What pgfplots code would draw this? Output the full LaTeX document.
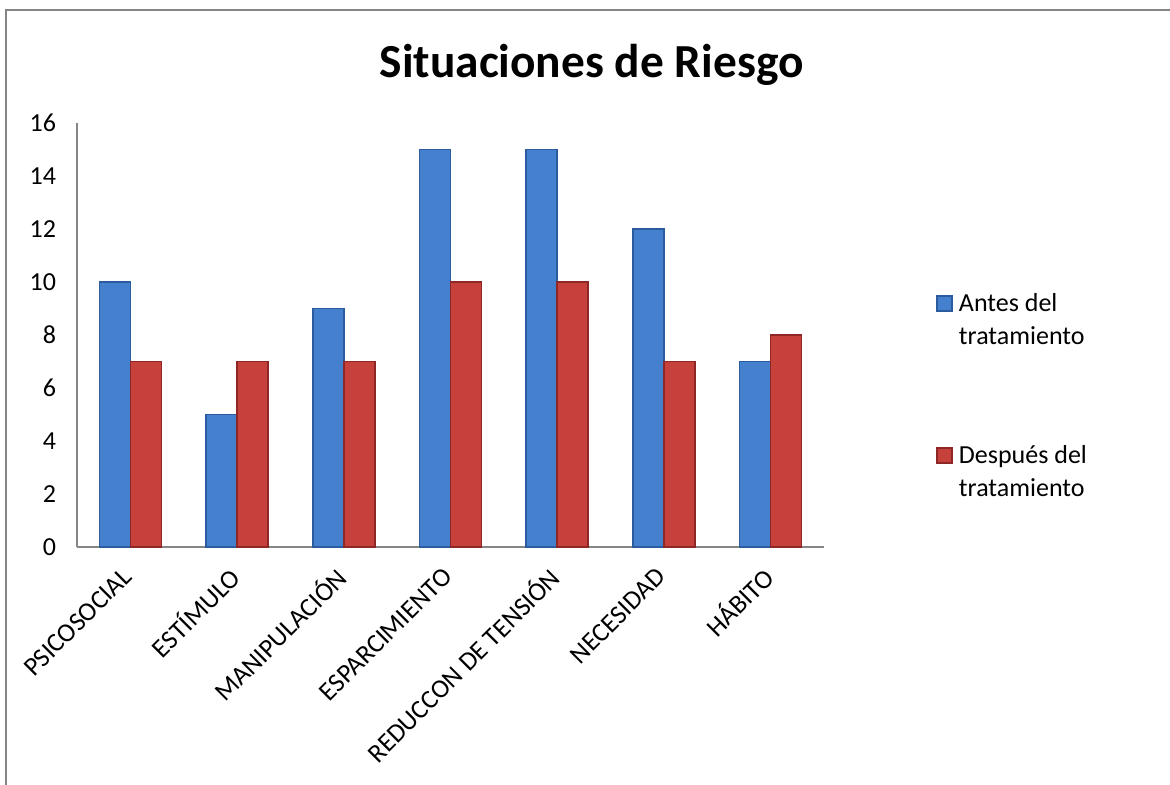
\documentclass[border=0pt]{standalone}
\usepackage{fontspec}
\setmainfont{Carlito}
\usepackage{pgfplots}
\pgfplotsset{compat=1.18}
\definecolor{bluF}{RGB}{68,128,206}
\definecolor{bluD}{RGB}{44,92,160}
\definecolor{redF}{RGB}{198,64,60}
\definecolor{redD}{RGB}{142,40,38}
\definecolor{axgray}{RGB}{134,134,134}
\begin{document}
\begin{tikzpicture}
\useasboundingbox (0,0) rectangle (585pt,-392pt);
\draw[axgray, line width=0.75pt] (3pt,-400pt) -- (3pt,-5pt) -- (590pt,-5pt);
\node[font=\bfseries\fontsize{23.7}{28}\selectfont, anchor=base] at (295.75pt,-38.5pt) {Situaciones de Riesgo};
\begin{axis}[
  at={(38.5pt,-273.5pt)}, anchor=south west,
  scale only axis, width=373.5pt, height=212pt,
  ybar=0pt, bar width=15.5pt,
  xmin=-0.5, xmax=6.5, ymin=0, ymax=16,
  ytick={0,2,...,16},
  xtick={0,...,6},
  xticklabels={PSICOSOCIAL, ESTÍMULO, MANIPULACIÓN, ESPARCIMIENTO, REDUCCON DE TENSIÓN, NECESIDAD, HÁBITO},
  axis lines*=left,
  axis line style={axgray, line width=0.9pt},
  major tick length=0pt,
  ticklabel style={font=\fontsize{13.2}{15}\selectfont},
  /pgf/number format/assume math mode=true,
  yticklabel style={xshift=-7pt, font=\fontsize{13}{15}\selectfont},
  xticklabel style={xshift=1pt, yshift=-10.2pt, rotate=45, anchor=east},
  legend style={at={(1.1499,0.6035)}, anchor=north west, draw=none, fill=none,
    inner sep=0pt, row sep=62pt, column sep=2pt,
    nodes={font=\fontsize{13}{16}\selectfont, text height=9pt, text depth=3pt, inner sep=1pt, anchor=west}},
  legend cell align=left,
  legend image code/.code={\draw[#1] (0pt,-2.75pt) rectangle (7.5pt,4.75pt);},
]
\addplot[draw=bluD, line width=0.8pt, fill=bluF]
  coordinates {(0,10) (1,5) (2,9) (3,15) (4,15) (5,12) (6,7)};
\addlegendentry{\rlap{\smash{\raisebox{-16.5pt}{tratamiento}}}Antes del}
\addplot[draw=redD, line width=0.8pt, fill=redF]
  coordinates {(0,7) (1,7) (2,7) (3,10) (4,10) (5,7) (6,8)};
\addlegendentry{\rlap{\smash{\raisebox{-16.5pt}{tratamiento}}}Después del}
\end{axis}
\end{tikzpicture}
\end{document}
